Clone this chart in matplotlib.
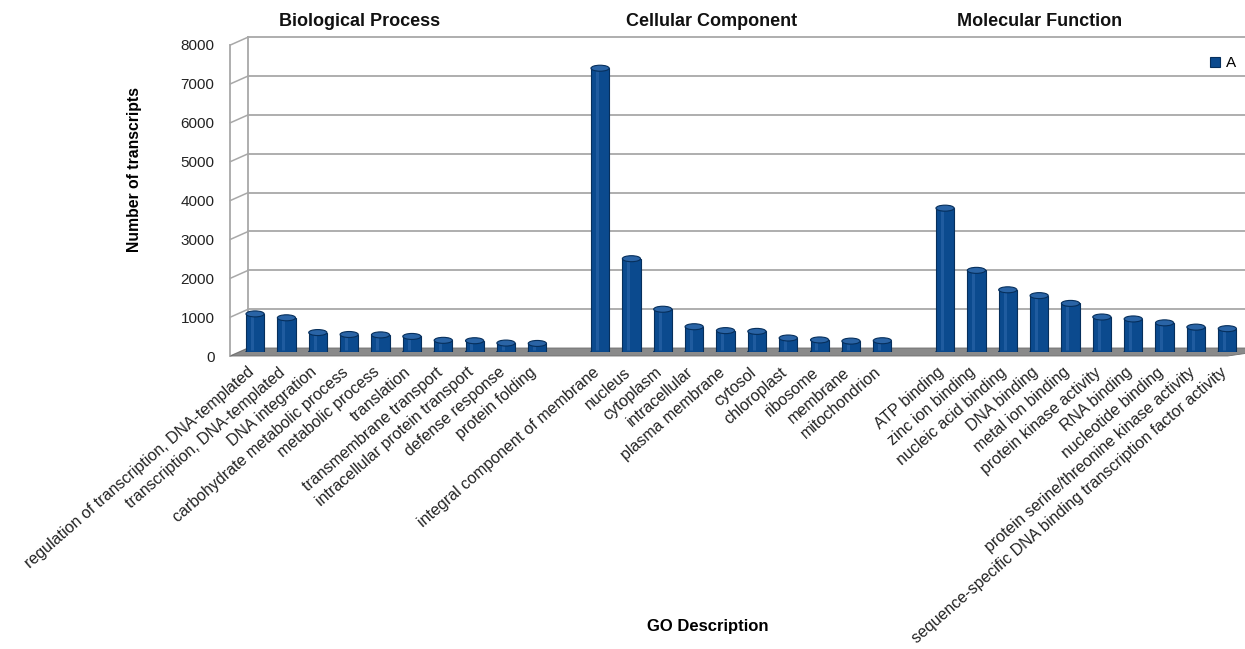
"""GO annotation bar chart, LibreOffice-like pseudo 3D look"""

import matplotlib
matplotlib.use("Agg")
import matplotlib.pyplot as plt
from matplotlib.patches import Ellipse, Polygon
from matplotlib.transforms import ScaledTranslation, offset_copy
import numpy as np

plt.rcParams['font.family'] = ['Liberation Sans', 'DejaVu Sans']

# ---- data -------------------------------------------------------------
bp_terms = ["regulation of transcription, DNA-templated",
            "transcription, DNA-templated",
            "DNA integration",
            "carbohydrate metabolic process",
            "metabolic process",
            "translation",
            "transmembrane transport",
            "intracellular protein transport",
            "defense response",
            "protein folding"]
bp_counts = [980, 880, 500, 450, 440, 400, 300, 290, 230, 220]

cc_terms = ["integral component of membrane",
            "nucleus",
            "cytoplasm",
            "intracellular",
            "plasma membrane",
            "cytosol",
            "chloroplast",
            "ribosome",
            "membrane",
            "mitochondrion"]
cc_counts = [7300, 2400, 1100, 650, 550, 530, 360, 310, 280, 290]

mf_terms = ["ATP binding",
            "zinc ion binding",
            "nucleic acid binding",
            "DNA binding",
            "metal ion binding",
            "protein kinase activity",
            "RNA binding",
            "nucleotide binding",
            "protein serine/threonine kinase activity",
            "sequence-specific DNA binding transcription factor activity"]
mf_counts = [3700, 2100, 1600, 1450, 1250, 900, 850, 750, 640, 600]

group_names = ["Biological Process", "Cellular Component", "Molecular Function"]
series_name = "A"

# one empty slot between the groups
groups = [(bp_terms, bp_counts), (cc_terms, cc_counts), (mf_terms, mf_counts)]
xpos, labels, values = [], [], []
slot = 0
for terms, counts in groups:
    for t, c in zip(terms, counts):
        xpos.append(slot)
        labels.append(t)
        values.append(c)
        slot += 1
    slot += 1
xpos = np.array(xpos)
nslots = slot - 1

# ---- figure -----------------------------------------------------------
W, H = 1245, 649
fig = plt.figure(figsize=(W/100, H/100), dpi=100)
ax = fig.add_axes([239.4/W, 1 - 352/H, 1003.6/W, 311/H])
ax.set_xlim(-0.5, nslots - 0.5)
ax.set_ylim(0, 8000)
for s in ax.spines.values():
    s.set_visible(False)
ax.set_facecolor('none')

grid_c = '#a8a8a8'
back = offset_copy(ax.transData, fig=fig, x=9, y=4, units='dots')
front = offset_copy(ax.transData, fig=fig, x=-9, y=-4, units='dots')
x0, x1 = ax.get_xlim()
yticks = np.arange(0, 8001, 1000)

# back wall gridlines and left side wall
for v in yticks[1:]:
    ax.plot([x0, x1 + 1], [v, v], color=grid_c, lw=1.3, transform=back,
            clip_on=False, zorder=1)
ax.plot([x0, x0], [0, 8000], color=grid_c, lw=1.3, transform=back,
        clip_on=False, zorder=1)
ax.plot([x0, x0], [0, 8000], color=grid_c, lw=1.3, transform=front,
        clip_on=False, zorder=1)
for v in yticks:
    p1 = front.transform((x0, v))
    p2 = back.transform((x0, v))
    ax.plot([p1[0], p2[0]], [p1[1], p2[1]], color=grid_c, lw=1.1,
            transform=None, clip_on=False, zorder=1)

# floor
fl = front.transform((x0, 0))
bl = back.transform((x0, 0))
br = back.transform((x1 + 1, 0))
fr = front.transform((x1 - 0.2, 0))
ax.add_patch(Polygon([fl, bl, br, fr], closed=True, transform=None,
                     facecolor='#8a8a8a', edgecolor='#6e6e6e', lw=0.6,
                     clip_on=False, zorder=2))

# bars as cylinders
bar_c = '#0b4a8e'
bw = 0.58
cap_h = 6 / 311 * 8000
bars = ax.bar(xpos, values, width=bw, color=bar_c, edgecolor='#062f5c',
              linewidth=0.8, zorder=3, label=series_name)
for x, v in zip(xpos, values):
    ax.add_patch(Ellipse((x, 0), bw, cap_h, facecolor=bar_c,
                         edgecolor='#062f5c', lw=0.8, zorder=2.9))
    ax.add_patch(Ellipse((x, v), bw, cap_h, facecolor='#2a64a6',
                         edgecolor='#062f5c', lw=0.8, zorder=4))
    ax.plot([x - bw*0.18, x - bw*0.18], [cap_h*0.4, v - cap_h*0.4],
            color='#2d68ab', lw=2.2, alpha=0.6, zorder=3.5,
            solid_capstyle='butt')

# ticks
ax.set_xticks(xpos)
ax.set_xticklabels(labels, rotation=41, ha='right', va='top',
                   rotation_mode='anchor', fontsize=11.5, color='#222222')
ax.tick_params(axis='x', length=0, pad=9)
ax.set_yticks(yticks)
ax.set_yticklabels([str(v) for v in yticks], fontsize=11, color='#222222')
ax.tick_params(axis='y', length=0, pad=18)
shift = ScaledTranslation(0, -4/100, fig.dpi_scale_trans)
for lab in ax.get_yticklabels():
    lab.set_transform(lab.get_transform() + shift)
for lab in ax.get_xticklabels():
    lab.set_transform(lab.get_transform() +
                      ScaledTranslation(-8/100, 0, fig.dpi_scale_trans))

# group titles and axis titles
title_x = [360, 712, 1040]
for name, tx in zip(group_names, title_x):
    fig.text(tx/W, 1 - 22/H, name, ha='center', va='center',
             fontsize=13, fontweight='bold', color='#111111')
fig.text(135/W, 1 - 170/H, "Number of transcripts", rotation=90,
         ha='center', va='center', fontsize=11.3, fontweight='bold')
fig.text(708/W, 1 - 627/H, "GO Description", ha='center', va='center',
         fontsize=12, fontweight='bold')

fig.legend(handles=[bars], labels=[series_name], loc='upper right',
           bbox_to_anchor=(1.0, 1 - 47/H), frameon=False, fontsize=11,
           handlelength=0.6, handleheight=0.6, handletextpad=0.4,
           borderaxespad=0.2)

fig.savefig('out.png', dpi=100)
